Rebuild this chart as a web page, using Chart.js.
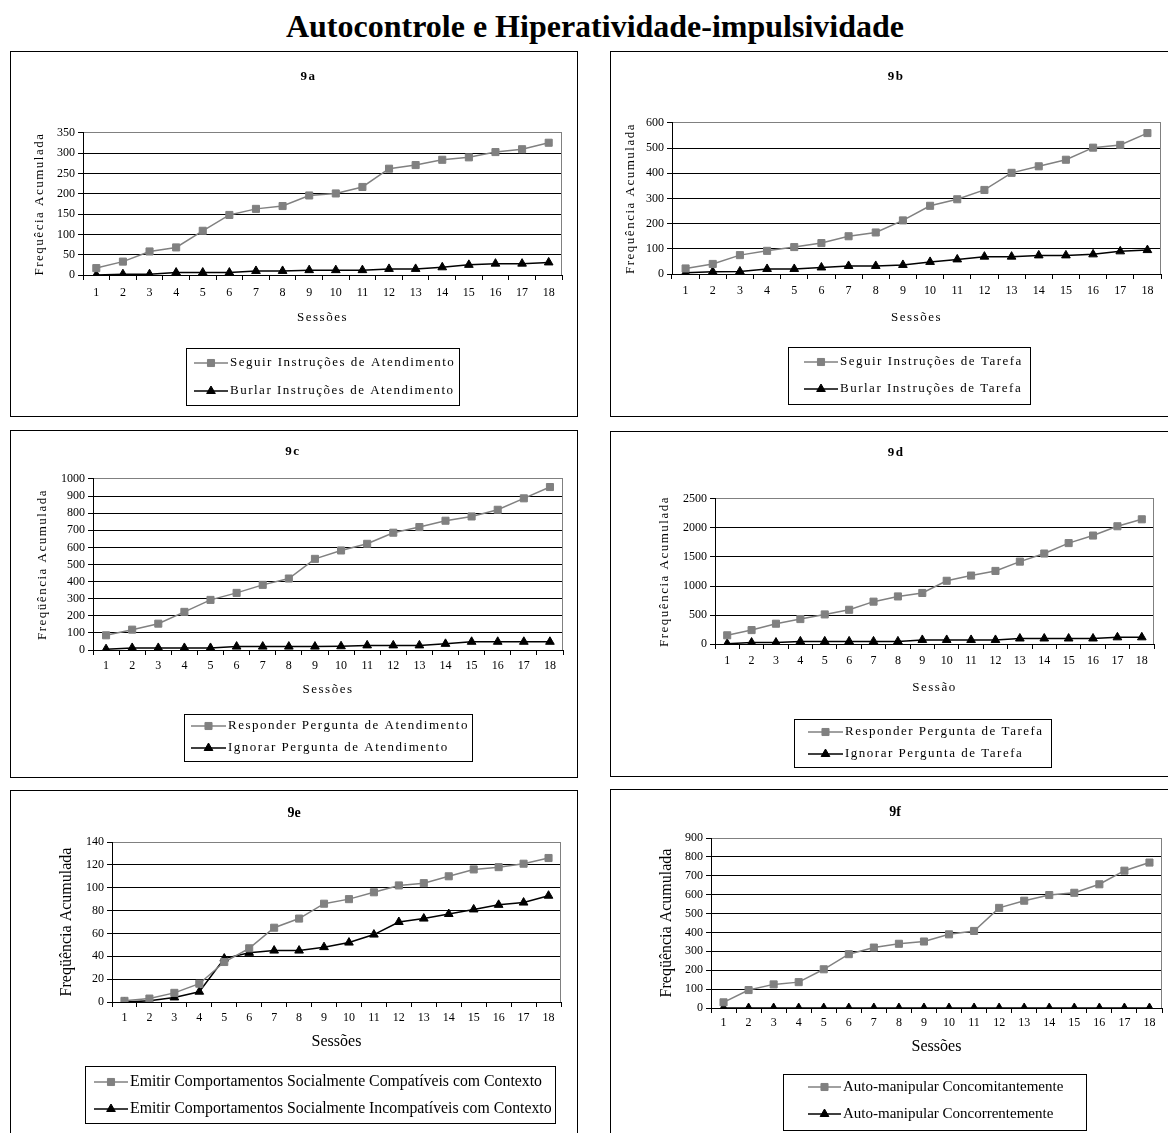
<!DOCTYPE html>
<html lang="pt">
<head>
<meta charset="utf-8">
<title>Autocontrole e Hiperatividade-impulsividade</title>
<script src="https://cdn.jsdelivr.net/npm/chart.js@4"></script>
<style>
  html, body { margin: 0; padding: 0; background: #fff; }
  body { width: 1168px; height: 1133px; overflow: hidden; position: relative; }
  #titulo {
    position: absolute; left: 0; top: 10px; width: 1190px;
    font: bold 32px/32px 'Liberation Serif', 'Times New Roman', serif;
    text-align: center; color: #000;
  }
  .painel { position: absolute; border: 1px solid #000; box-sizing: border-box; }
  .painel canvas { position: absolute; left: -1px; top: -1px; }
</style>
</head>
<body>
<div id="titulo">Autocontrole e Hiperatividade-impulsividade</div>
<div class="painel" style="left:10px;top:51px;width:568px;height:366px"><canvas id="g9a" width="568" height="366"></canvas></div>
<div class="painel" style="left:610px;top:51px;width:568px;height:366px"><canvas id="g9b" width="568" height="366"></canvas></div>
<div class="painel" style="left:10px;top:430px;width:568px;height:348px"><canvas id="g9c" width="568" height="348"></canvas></div>
<div class="painel" style="left:610px;top:431px;width:568px;height:346px"><canvas id="g9d" width="568" height="346"></canvas></div>
<div class="painel" style="left:10px;top:790px;width:568px;height:350px"><canvas id="g9e" width="568" height="350"></canvas></div>
<div class="painel" style="left:610px;top:789px;width:568px;height:350px"><canvas id="g9f" width="568" height="350"></canvas></div>

<script>
// DADOS
const sessoes = ['1', '2', '3', '4', '5', '6', '7', '8', '9', '10', '11', '12', '13', '14', '15', '16', '17', '18'];

// 9a
const seguirAtendimento = [17, 33, 58, 68, 109, 148, 163, 170, 196, 201, 217, 262, 271, 284, 290, 303, 310, 326];
const burlarAtendimento = [0, 2, 2, 6, 6, 6, 10, 10, 12, 12, 12, 15, 15, 19, 25, 28, 28, 31];
// 9b
const seguirTarefa = [22, 40, 75, 92, 107, 123, 150, 165, 213, 271, 297, 334, 402, 428, 454, 502, 513, 560];
const burlarTarefa = [5, 9, 10, 20, 20, 26, 32, 32, 36, 48, 58, 69, 69, 74, 74, 78, 90, 95];
// 9c
const responderAtendimento = [86, 119, 154, 223, 293, 334, 381, 418, 533, 582, 621, 686, 719, 756, 781, 820, 887, 953];
const ignorarAtendimento = [5, 12, 12, 12, 12, 20, 20, 20, 20, 22, 27, 27, 27, 36, 48, 48, 48, 48];
// 9d
const responderTarefa = [150, 240, 350, 430, 510, 590, 730, 820, 880, 1090, 1180, 1260, 1420, 1560, 1740, 1870, 2030, 2150];
const ignorarTarefa = [5, 25, 25, 45, 45, 45, 45, 45, 70, 70, 70, 70, 95, 95, 95, 95, 115, 115];
// 9e
const compativeis = [1, 3, 8, 16, 35, 47, 65, 73, 86, 90, 96, 102, 104, 110, 116, 118, 121, 126];
const incompativeis = [0, 1, 4, 9, 38, 43, 45, 45, 48, 52, 59, 70, 73, 77, 81, 85, 87, 93];
// 9f
const concomitantemente = [30, 95, 125, 137, 205, 285, 320, 340, 352, 390, 408, 530, 568, 598, 610, 655, 727, 770];
const concorrentemente = [0, 0, 0, 0, 0, 0, 0, 0, 0, 0, 0, 0, 0, 0, 0, 0, 0, 0];

const CINZA = '#808080';
Chart.defaults.font.family = "'Liberation Serif', 'Times New Roman', serif";
Chart.defaults.color = '#000';

function serieCinza(label, data) {
  return { label, data, borderColor: CINZA, backgroundColor: CINZA, borderWidth: 1.5,
    pointStyle: 'rect', pointRadius: 5, pointBackgroundColor: CINZA, pointBorderColor: CINZA, pointBorderWidth: 1 };
}
function seriePreta(label, data) {
  return { label, data, borderColor: '#000', backgroundColor: '#000', borderWidth: 1.5,
    pointStyle: 'triangle', pointRadius: 5, pointBackgroundColor: '#000', pointBorderColor: '#000', pointBorderWidth: 1 };
}

// PLUGINS
// espaçamento entre letras (títulos), sem afetar os números dos eixos
const espacamento = {
  id: 'espacamento',
  beforeDraw(chart, args, o) {
    chart.ctx.letterSpacing = (o.px || 0) + 'px';
    Object.values(chart.scales).forEach(s => {
      if (s._semEspaco) return;
      const orig = s.drawLabels;
      s.drawLabels = function (area) {
        const sp = this.ctx.letterSpacing;
        this.ctx.letterSpacing = '0px';
        orig.call(this, area);
        this.ctx.letterSpacing = sp;
      };
      s._semEspaco = true;
    });
  },
  afterDraw(chart) { chart.ctx.letterSpacing = '0px'; }
};

// borda cinza à direita da área do gráfico
const moldura = {
  id: 'moldura',
  beforeDatasetsDraw(chart) {
    const { ctx, chartArea: a } = chart;
    ctx.save();
    ctx.strokeStyle = CINZA;
    ctx.lineWidth = 1;
    const x = Math.round(a.right) - 0.5;
    ctx.beginPath(); ctx.moveTo(x, a.top); ctx.lineTo(x, a.bottom); ctx.stroke();
    ctx.restore();
  }
};

// legenda em caixa, como no Excel
const legendaCaixa = {
  id: 'legendaCaixa',
  afterDraw(chart, args, o) {
    const ctx = chart.ctx;
    ctx.save();
    ctx.letterSpacing = (o.spacing || 0) + 'px';
    ctx.strokeStyle = '#000';
    ctx.lineWidth = 1;
    ctx.strokeRect(o.left + 0.5, o.top + 0.5, o.width, o.height);
    ctx.font = o.font + "px 'Liberation Serif', 'Times New Roman', serif";
    ctx.textBaseline = 'middle';
    chart.data.datasets.forEach((ds, i) => {
      const y = o.top + o.rows[i];
      const x0 = o.left + o.sx, x1 = o.left + o.tx - 2;
      ctx.strokeStyle = ds.borderColor;
      ctx.lineWidth = ds.borderWidth;
      ctx.beginPath(); ctx.moveTo(x0, y); ctx.lineTo(x1, y); ctx.stroke();
      ctx.fillStyle = ds.pointBackgroundColor;
      ctx.strokeStyle = ds.pointBorderColor;
      ctx.lineWidth = 1;
      Chart.helpers.drawPoint(ctx, { pointStyle: ds.pointStyle, radius: ds.pointRadius, borderWidth: 1, rotation: 0 }, (x0 + x1) / 2, y);
      ctx.fillStyle = '#000';
      ctx.fillText(ds.label, o.left + o.tx, y);
    });
    ctx.restore();
  }
};

function grafico(id, d) {
  const lhT = d.fTitle * 1.2, lhA = d.fAxis * 1.2, lhK = d.fTick * 1.2;
  const pl = Math.max(0, Math.min(2 * d.tcx - d.r, d.l - 28));
  const xb = d.xt + lhA / 2;
  const t1 = d.tcy - lhT / 2;
  return new Chart(document.getElementById(id), {
    type: 'line',
    data: { labels: sessoes, datasets: d.series },
    options: {
      responsive: false,
      animation: false,
      events: [],
      elements: { line: { tension: 0 } },
      layout: { padding: { left: pl, right: d.w - d.r, top: 0, bottom: d.h - xb } },
      scales: {
        x: {
          offset: true,
          grid: { offset: true, drawOnChartArea: false, drawTicks: true, tickLength: 5, color: '#000' },
          border: { color: '#000', width: 1 },
          ticks: { font: { size: d.fTick }, padding: d.tickY - d.b - 5 - lhK / 2, maxRotation: 0, autoSkip: false },
          title: { display: true, text: d.xTitle, font: { size: d.fAxis }, padding: 0 },
          afterFit: s => { s.height = xb - d.b; }
        },
        y: {
          min: 0, max: d.yMax,
          ticks: { stepSize: d.yStep, font: { size: d.fTick }, padding: 3, autoSkip: false, format: { useGrouping: false } },
          grid: { color: c => (c.tick && c.tick.value === d.yMax ? CINZA : '#000'), tickColor: '#000', tickLength: 5 },
          border: { color: '#000', width: 1 },
          title: { display: true, text: d.yTitle, font: { size: d.fAxis }, padding: { top: d.yt - pl - lhA / 2, bottom: 0 } },
          afterFit: s => { s.width = d.l - pl; }
        }
      },
      plugins: {
        legend: { display: false },
        tooltip: { enabled: false },
        title: { display: true, text: d.titulo, font: { size: d.fTitle, weight: 'bold' }, padding: { top: t1, bottom: d.t - t1 - lhT } },
        espacamento: { px: d.spacing },
        legendaCaixa: Object.assign({ font: d.fLegend, spacing: d.spacing }, d.legenda)
      }
    },
    plugins: [espacamento, moldura, legendaCaixa]
  });
}

const antigo = { fTitle: 13, fAxis: 13, fTick: 12, fLegend: 13, spacing: 1.5 };
const novo = { fTitle: 14, fAxis: 16, fTick: 12, fLegend: 15.8, spacing: 0 };

grafico('g9a', Object.assign({}, antigo, {
  titulo: '9a', xTitle: 'Sessões', yTitle: 'Frequêcia Acumulada', yMax: 350, yStep: 50,
  w: 568, h: 366, tcx: 301, tcy: 26, l: 73, r: 552, t: 82, b: 224, tickY: 242, xt: 267, yt: 30,
  legenda: { left: 176, top: 297, width: 273, height: 57, rows: [15, 43], sx: 8, tx: 44 },
  series: [serieCinza('Seguir Instruções de Atendimento', seguirAtendimento), seriePreta('Burlar Instruções de Atendimento', burlarAtendimento)]
}));

grafico('g9b', Object.assign({}, antigo, {
  titulo: '9b', xTitle: 'Sessões', yTitle: 'Frequência Acumulada', yMax: 600, yStep: 100,
  w: 568, h: 366, tcx: 286, tcy: 26, l: 62, r: 551, t: 72, b: 223, tickY: 240, xt: 267, yt: 21,
  legenda: { left: 178, top: 296, width: 242, height: 57, rows: [15, 42], sx: 16, tx: 52 },
  series: [serieCinza('Seguir Instruções de Tarefa', seguirTarefa), seriePreta('Burlar Instruções de Tarefa', burlarTarefa)]
}));

grafico('g9c', Object.assign({}, antigo, {
  titulo: '9c', xTitle: 'Sessões', yTitle: 'Freqüência Acumulada', yMax: 1000, yStep: 100,
  w: 568, h: 348, tcx: 283, tcy: 22, l: 83, r: 553, t: 49, b: 220, tickY: 236, xt: 260, yt: 33,
  legenda: { left: 174, top: 284, width: 288, height: 47, rows: [12, 34], sx: 7, tx: 44 },
  series: [serieCinza('Responder Pergunta de Atendimento', responderAtendimento), seriePreta('Ignorar Pergunta de Atendimento', ignorarAtendimento)]
}));

grafico('g9d', Object.assign({}, antigo, {
  titulo: '9d', xTitle: 'Sessão', yTitle: 'Frequência Acumulada', yMax: 2500, yStep: 500,
  w: 568, h: 346, tcx: 286, tcy: 22, l: 105, r: 544, t: 68, b: 213, tickY: 230, xt: 257, yt: 55,
  legenda: { left: 184, top: 288, width: 257, height: 48, rows: [13, 35], sx: 14, tx: 51 },
  series: [serieCinza('Responder Pergunta de Tarefa', responderTarefa), seriePreta('Ignorar Pergunta de Tarefa', ignorarTarefa)]
}));

grafico('g9e', Object.assign({}, novo, {
  titulo: '9e', xTitle: 'Sessões', yTitle: 'Freqüência Acumulada', yMax: 140, yStep: 20,
  w: 568, h: 350, tcx: 284, tcy: 23, l: 102, r: 551, t: 52, b: 212, tickY: 228, xt: 252, yt: 57,
  legenda: { left: 75, top: 276, width: 470, height: 57, rows: [16, 43], sx: 9, tx: 45 },
  series: [serieCinza('Emitir Comportamentos Socialmente Compatíveis com Contexto', compativeis), seriePreta('Emitir Comportamentos Socialmente Incompatíveis com Contexto', incompativeis)]
}));

grafico('g9f', Object.assign({}, novo, {
  titulo: '9f', xTitle: 'Sessões', yTitle: 'Freqüência Acumulada', yMax: 900, yStep: 100, fLegend: 15,
  w: 568, h: 350, tcx: 285, tcy: 23, l: 101, r: 552, t: 49, b: 219, tickY: 234, xt: 258, yt: 57,
  legenda: { left: 173, top: 285, width: 303, height: 56, rows: [13, 40], sx: 25, tx: 60 },
  series: [serieCinza('Auto-manipular Concomitantemente', concomitantemente), seriePreta('Auto-manipular Concorrentemente', concorrentemente)]
}));
</script>
</body>
</html>
